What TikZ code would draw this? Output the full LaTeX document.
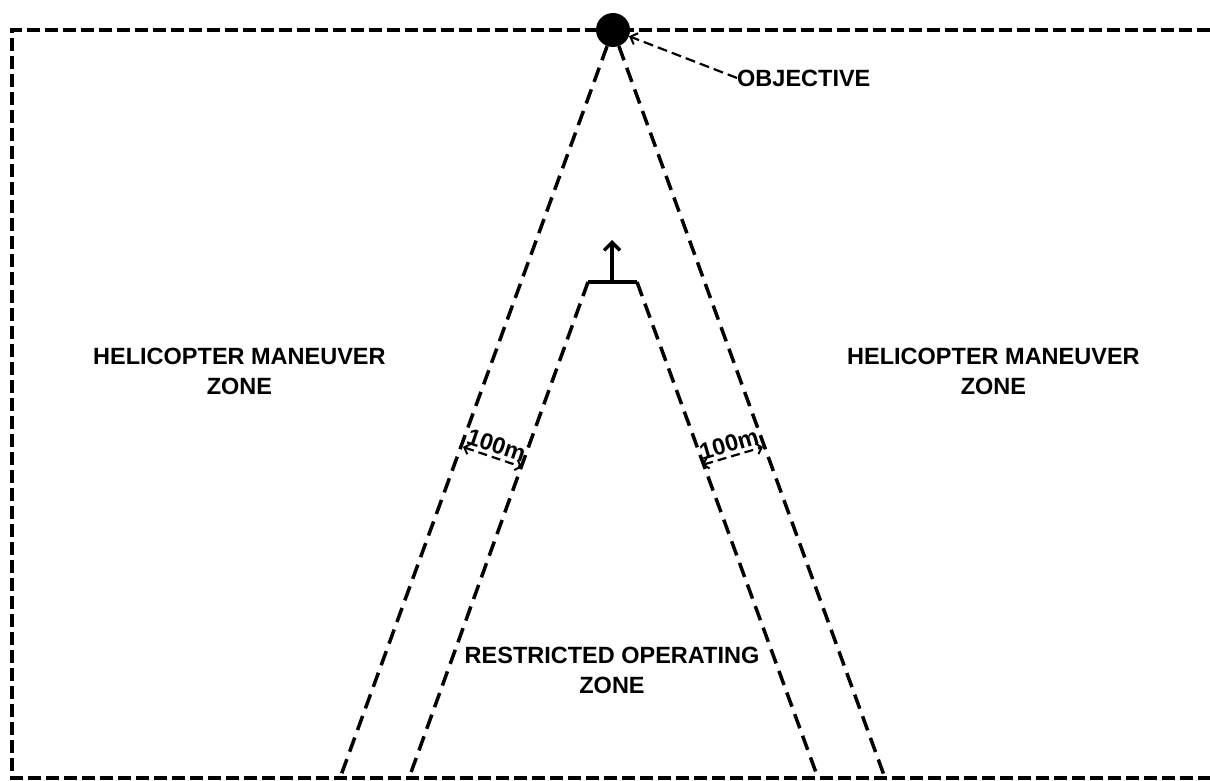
\documentclass[tikz,border=0pt]{standalone}
\usepackage{fontspec}
\setmainfont{Liberation Sans}
\usepackage{tikz}
\usetikzlibrary{arrows.meta, positioning, calc}

\begin{document}
\begin{tikzpicture}[
    x=1pt, y=-1pt,
    zone/.style     = {font=\fontsize{23.5}{30}\selectfont\bfseries, align=center, inner sep=0pt},
    bound/.style    = {line width=3.5pt, dash pattern=on 13pt off 5pt},
    corridor/.style = {line width=3.5pt, dash pattern=on 15pt off 8pt},
    pointer/.style  = {line width=2.2pt, dash pattern=on 10pt off 5pt,
                       -{Straight Barb[length=6pt, width=12pt, line width=2pt]}},
    span/.style     = {line width=2.2pt, dash pattern=on 9pt off 5pt,
                       {Straight Barb[length=5pt, width=11pt, line width=2pt]}-{Straight Barb[length=5pt, width=11pt, line width=2pt]}},
    target/.style   = {circle, fill=black, minimum size=34pt, inner sep=0pt},
]

\fill[white] (0,0) rectangle (1210,781);
\useasboundingbox (0,0) rectangle (1210,781);

% Area boundary (open on the right)
\draw[bound] (1210,30) -- (12,30) -- (12,778) -- (1210,778);

% Objective
\node[target] (obj) at (613,30) {};
\node[zone, anchor=west] (objlbl) at (737,78) {OBJECTIVE};
\draw[pointer] (objlbl.west) -- (obj);

% Corridor corners
\coordinate (olb) at (340,778);
\coordinate (orb) at (885,778);
\coordinate (itl) at (588,282);
\coordinate (itr) at (637,282);
\coordinate (ilb) at (409,778);
\coordinate (irb) at (818,778);

% Outer edges from the objective
\draw[corridor] (obj) -- (olb);
\draw[corridor] (obj) -- (orb);

% Restricted operating zone
\draw[corridor] (itl) -- (ilb);
\draw[corridor] (itr) -- (irb);
\draw[line width=4.5pt] (itl) -- (itr);
\coordinate (itop) at (612,282);
\coordinate (iaim) at (612,240);
\draw[line width=4pt, -{Straight Barb[length=8pt, width=16pt, line width=3.5pt]}] (itop) -- (iaim);

% 100m widths
\coordinate (la) at (463,447);
\coordinate (lb) at (522,467);
\coordinate (ra) at (702,465);
\coordinate (rb) at (763,447);
\draw[span] (la) -- node[zone, sloped, above=3pt] (lwidth) {100m} (lb);
\draw[span] (ra) -- node[zone, sloped, above=3pt] (rwidth) {100m} (rb);

% Zone labels
\node[zone, anchor=north west] (hmzl) at (93,348) {HELICOPTER MANEUVER\\ZONE};
\node[zone, anchor=north west] (hmzr) at (847,348) {HELICOPTER MANEUVER\\ZONE};
\node[zone, anchor=north] (roz) at (612,647) {RESTRICTED OPERATING\\ZONE};

\end{tikzpicture}
\end{document}
